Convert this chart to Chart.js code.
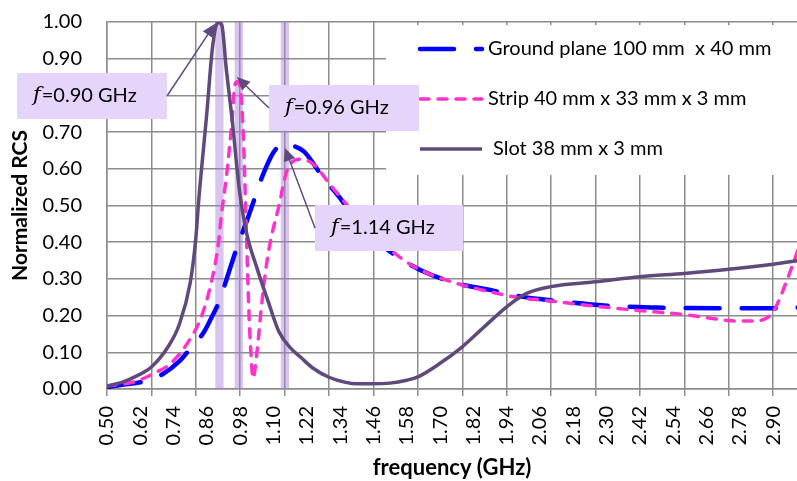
<!DOCTYPE html>
<html>
<head>
<meta charset="utf-8">
<script src="https://cdn.jsdelivr.net/npm/chart.js@4.4.0/dist/chart.umd.min.js"></script>
<style>
  html, body { margin: 0; padding: 0; background: #fff; }
</style>
</head>
<body>
<canvas id="rcs" width="797" height="481"></canvas>
<script>
// ─── Data ──────────────────────────────────────────────────────
const SERIES_NAMES = ['Ground plane 100 mm  x 40 mm', 'Strip 40 mm x 33 mm x 3 mm', 'Slot 38 mm x 3 mm'];

const FREQ_GROUND = [0.50, 0.56, 0.63, 0.70, 0.76, 0.80, 0.85, 0.88, 0.907, 0.93, 0.97, 1.00, 1.03, 1.06, 1.10, 1.135, 1.16, 1.21, 1.28, 1.34, 1.40, 1.46, 1.52, 1.64, 1.76, 1.88, 2.00, 2.06, 2.30, 2.48, 2.72, 2.90, 2.99];
const RCS_GROUND  = [0.005, 0.012, 0.02, 0.04, 0.075, 0.11, 0.156, 0.20, 0.243, 0.297, 0.39, 0.45, 0.515, 0.58, 0.645, 0.669, 0.665, 0.647, 0.574, 0.52, 0.455, 0.41, 0.374, 0.32, 0.288, 0.27, 0.251, 0.245, 0.227, 0.222, 0.22, 0.22, 0.222];

const FREQ_STRIP = [0.50, 0.60, 0.67, 0.73, 0.79, 0.84, 0.875, 0.90, 0.913, 0.931, 0.949, 0.961, 0.969, 0.984, 0.993, 1.00, 1.006, 1.012, 1.018, 1.026, 1.041, 1.059, 1.077, 1.095, 1.119, 1.147, 1.195, 1.24, 1.31, 1.37, 1.46, 1.57, 1.64, 1.76, 1.88, 2.00, 2.06, 2.22, 2.40, 2.59, 2.70, 2.76, 2.82, 2.88, 2.91, 2.95, 2.99];
const RCS_STRIP  = [0.008, 0.02, 0.043, 0.07, 0.125, 0.197, 0.288, 0.388, 0.479, 0.583, 0.719, 0.828, 0.837, 0.792, 0.656, 0.48, 0.333, 0.197, 0.106, 0.029, 0.106, 0.243, 0.351, 0.424, 0.497, 0.592, 0.626, 0.615, 0.551, 0.497, 0.42, 0.351, 0.32, 0.288, 0.265, 0.247, 0.243, 0.229, 0.215, 0.202, 0.19, 0.185, 0.185, 0.195, 0.224, 0.297, 0.38];

const FREQ_SLOT = [0.50, 0.56, 0.60, 0.66, 0.72, 0.76, 0.80, 0.82, 0.83, 0.86, 0.88, 0.90, 0.914, 0.93, 0.949, 0.979, 1.003, 1.04, 1.08, 1.12, 1.16, 1.20, 1.24, 1.30, 1.36, 1.40, 1.46, 1.52, 1.58, 1.62, 1.70, 1.78, 1.86, 1.94, 2.01, 2.10, 2.26, 2.42, 2.58, 2.74, 2.90, 2.99];
const RCS_SLOT  = [0.008, 0.02, 0.033, 0.06, 0.115, 0.175, 0.29, 0.41, 0.51, 0.755, 0.93, 1.00, 0.99, 0.87, 0.747, 0.53, 0.425, 0.33, 0.24, 0.155, 0.113, 0.085, 0.058, 0.032, 0.018, 0.014, 0.014, 0.016, 0.024, 0.033, 0.07, 0.115, 0.17, 0.224, 0.26, 0.279, 0.292, 0.306, 0.315, 0.326, 0.34, 0.35];

const X_LABELS = [0.50, 0.62, 0.74, 0.86, 0.98, 1.10, 1.22, 1.34, 1.46, 1.58, 1.70, 1.82, 1.94, 2.06, 2.18, 2.30, 2.42, 2.54, 2.66, 2.78, 2.90];
const X_GRID   = [0.50, 0.66, 0.82, 0.98, 1.14, 1.30, 1.46, 1.62, 1.78, 1.94, 2.10, 2.26, 2.42, 2.58, 2.74, 2.90];
const Y_TICKS  = [0, 0.1, 0.2, 0.3, 0.4, 0.5, 0.6, 0.7, 0.8, 0.9, 1.0];

// marked resonances (shaded bands) and their call-outs
const BAND_F      = [0.905, 0.975, 1.141];
const CALLOUT_TXT = ['=0.90 GHz', '=0.96 GHz', '=1.14 GHz'];
const TIP_F       = [0.889, 0.968, 1.141];
const TIP_V       = [0.995, 0.85, 0.657];

const X_MIN = 0.5, X_MAX = 2.986;
const FAM = 'Lato, "Open Sans", sans-serif';
const GRID_COL = '#8c8c8c';
const COLORS = ['#0000ff', '#ff33cc', '#604a7b'];

const pts = (fs, vs) => fs.map((f, i) => ({ x: f, y: vs[i] }));
const setTicks = list => s => { s.ticks = list.map(v => ({ value: v })); };

// ─── Plugins: bands, legend panel, call-outs ───────────────────
const decor = {
    id: 'decor',
    beforeDatasetsDraw(chart) {
        const { ctx, chartArea: a, scales: { x } } = chart;
        ctx.save();
        ctx.fillStyle = 'rgba(168,126,215,0.45)';
        for (const f of BAND_F) {
            const l = x.getPixelForValue(f - 0.015), r = x.getPixelForValue(f + 0.015);
            ctx.fillRect(l, a.top, r - l, a.bottom - a.top);
        }
        // white panel behind the legend
        ctx.fillStyle = '#fff';
        ctx.fillRect(386, 25, 411, 150);
        ctx.restore();
    },
    afterDatasetsDraw(chart) {
        const { ctx, scales: { x, y } } = chart;
        ctx.save();
        // legend
        const rows = [49, 99, 149];
        chart.data.datasets.forEach((ds, i) => {
            ctx.strokeStyle = ds.borderColor;
            ctx.lineWidth = ds.borderWidth;
            ctx.lineCap = ds.borderCapStyle || 'butt';
            ctx.setLineDash(ds.borderDash || []);
            ctx.beginPath();
            ctx.moveTo(420, rows[i]);
            ctx.lineTo(482, rows[i]);
            ctx.stroke();
            ctx.setLineDash([]);
            ctx.fillStyle = '#000';
            ctx.font = '20px ' + FAM;
            ctx.textBaseline = 'middle';
            ctx.textAlign = 'left';
            ctx.fillText(ds.label, i === 2 ? 493 : 488, rows[i]);
        });

        // call-out boxes
        const boxes = [
            { l: 17, t: 73, w: 150, h: 46, side: 'right' },
            { l: 269, t: 85, w: 150, h: 46, side: 'left' },
            { l: 315, t: 205, w: 148, h: 46, side: 'left' }
        ];
        boxes.forEach((b, i) => {
            ctx.fillStyle = '#e5d5fb';
            ctx.fillRect(b.l, b.t, b.w, b.h);
            const cy = b.t + b.h / 2;
            ctx.fillStyle = '#000';
            ctx.textBaseline = 'middle';
            ctx.textAlign = 'left';
            ctx.font = 'italic 21px "DejaVu Serif", serif';
            ctx.fillText('f', b.l + 16, cy);
            const fw = ctx.measureText('f').width;
            ctx.font = '20px ' + FAM;
            ctx.fillText(CALLOUT_TXT[i], b.l + 17 + fw, cy);

            // arrow to the marked peak
            const sx = b.side === 'right' ? b.l + b.w : b.l;
            const tx = x.getPixelForValue(TIP_F[i]), ty = y.getPixelForValue(TIP_V[i]);
            const ang = Math.atan2(ty - cy, tx - sx);
            ctx.strokeStyle = '#604a7b';
            ctx.fillStyle = '#604a7b';
            ctx.lineWidth = 1.5;
            ctx.beginPath();
            ctx.moveTo(sx, cy);
            ctx.lineTo(tx - 10 * Math.cos(ang), ty - 10 * Math.sin(ang));
            ctx.stroke();
            ctx.beginPath();
            ctx.moveTo(tx, ty);
            ctx.lineTo(tx - 13 * Math.cos(ang) + 6 * Math.sin(ang), ty - 13 * Math.sin(ang) - 6 * Math.cos(ang));
            ctx.lineTo(tx - 13 * Math.cos(ang) - 6 * Math.sin(ang), ty - 13 * Math.sin(ang) + 6 * Math.cos(ang));
            ctx.closePath();
            ctx.fill();
        });
        ctx.restore();
    }
};

new Chart(document.getElementById('rcs'), {
    type: 'line',
    data: {
        datasets: [
            { label: SERIES_NAMES[0], data: pts(FREQ_GROUND, RCS_GROUND), borderColor: COLORS[0], borderWidth: 4.5,
              borderDash: [34, 22], borderCapStyle: 'round', order: 2 },
            { label: SERIES_NAMES[1], data: pts(FREQ_STRIP, RCS_STRIP), borderColor: COLORS[1], borderWidth: 3.5,
              borderDash: [9, 9], borderCapStyle: 'round', order: 1 },
            { label: SERIES_NAMES[2], data: pts(FREQ_SLOT, RCS_SLOT), borderColor: COLORS[2], borderWidth: 3.5, order: 0 }
        ]
    },
    options: {
        responsive: false,
        animation: false,
        layout: { padding: { top: 22, right: 0, left: 0, bottom: 0 } },
        elements: { point: { radius: 0 }, line: { cubicInterpolationMode: 'monotone', fill: false } },
        plugins: { legend: { display: false }, tooltip: { enabled: false } },
        scales: {
            y: {
                min: 0, max: 1,
                afterBuildTicks: setTicks(Y_TICKS),
                afterFit: s => { s.width = 107; s.paddingTop = 0; s.paddingBottom = 0; },
                ticks: { callback: v => v.toFixed(2), font: { family: FAM, size: 20 }, color: '#000', padding: 25 },
                grid: { color: GRID_COL, lineWidth: 1.5, drawTicks: false },
                border: { color: GRID_COL, width: 1.5 },
                title: { display: true, text: 'Normalized RCS', color: '#000',
                         font: { family: FAM, size: 21, weight: 'bold' }, padding: { top: 8, bottom: 0 } }
            },
            xg: {
                type: 'linear', position: 'bottom', weight: 0, min: X_MIN, max: X_MAX,
                afterBuildTicks: setTicks(X_GRID),
                afterFit: s => { s.height = 7; s.paddingLeft = 0; s.paddingRight = 0; },
                ticks: { display: false, autoSkip: false },
                grid: { color: GRID_COL, lineWidth: 1.5, tickLength: 7 },
                border: { color: GRID_COL, width: 1.5 }
            },
            x: {
                type: 'linear', position: 'bottom', weight: 1, min: X_MIN, max: X_MAX,
                afterBuildTicks: setTicks(X_LABELS),
                afterFit: s => { s.height = 85; s.paddingLeft = 0; s.paddingRight = 0; },
                ticks: { autoSkip: false, minRotation: 90, maxRotation: 90, padding: 10,
                         callback: v => v.toFixed(2), font: { family: FAM, size: 20 }, color: '#000' },
                grid: { display: false, drawTicks: false },
                border: { display: false },
                title: { display: true, text: 'frequency (GHz)', color: '#000',
                         font: { family: FAM, size: 22, weight: 'bold' }, padding: { top: 0, bottom: 0 } }
            }
        }
    },
    plugins: [decor]
});
</script>
</body>
</html>
